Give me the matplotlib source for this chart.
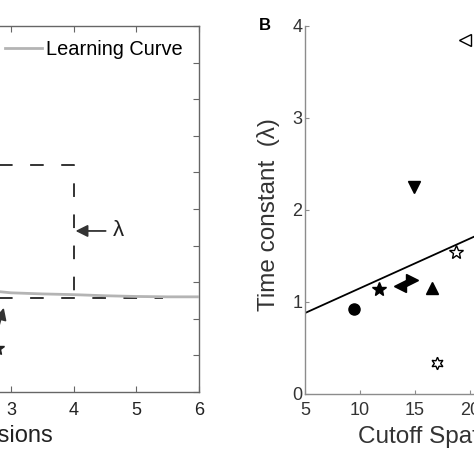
import matplotlib
matplotlib.use("Agg")
import matplotlib.pyplot as plt

plt.rcParams['font.family'] = ['Liberation Sans', 'DejaVu Sans']

# panel A (only the right part is visible)
curve_x = [2.5, 2.82, 3.0, 3.5, 4.0, 4.5, 5.0, 5.5, 6.0]
curve_y = [0.285, 0.274, 0.271, 0.268, 0.266, 0.263, 0.261, 0.260, 0.260]
asymptote = 0.257
box_top = 0.62
lambda_x = 4.0
asym_end = 5.42
a_xticks = [0, 1, 2, 3, 4, 5, 6]
a_xlabels = ['', '', '', '3', '4', '5', '6']

# panel B
cutoff = [9.45, 11.7, 13.6, 14.7, 16.5, 14.9, 17.0, 18.7, 19.5]
tconst = [0.92, 1.14, 1.17, 1.24, 1.15, 2.25, 0.34, 1.54, 3.85]
markers = ['o', '*', '<', '>', '^', 'v', (6, 1, 0), '*', '<']
filled = [True, True, True, True, True, True, False, False, False]
fit_x = [5, 21.5]
fit_intercept = 0.88
fit_slope = 0.054

W = 474
fig = plt.figure(figsize=(4.74, 4.74), dpi=100)

# ---------------- panel A
axA = fig.add_axes([-177 / W, 82 / W, 376 / W, 366 / W])
axA.plot(curve_x, curve_y, color='#b4b4b4', lw=2.0, label='Learning Curve', zorder=3)
axA.plot([0, asym_end], [asymptote, asymptote], color='#333333', lw=1.4,
         dashes=[7.0, 9.0], zorder=2)
axA.plot([0, lambda_x, lambda_x], [box_top, box_top, asymptote], color='#333333', lw=1.4,
         dashes=[7.0, 9.0], zorder=2)
axA.annotate('', xy=(lambda_x + 0.03, 0.44), xytext=(4.51, 0.44),
             arrowprops=dict(arrowstyle='-|>,head_length=0.6,head_width=0.3',
                             color='#333333', lw=1.3, mutation_scale=12,
                             shrinkA=0, shrinkB=0))
axA.text(4.71, 0.44, 'λ', fontsize=16, ha='center', va='center', color='#222222')
axA.annotate('', xy=(2.885, 0.23), xytext=(2.6, 0.05),
             arrowprops=dict(arrowstyle='-|>,head_length=0.6,head_width=0.3',
                             color='#333333', lw=1.2, mutation_scale=12,
                             shrinkA=0, shrinkB=0))
axA.plot([2.77], [0.12], marker='*', ms=10, color='#222222', ls='none')
axA.set_xlim(0, 6)
axA.set_ylim(0, 1)
axA.set_xticks(a_xticks, a_xlabels)
axA.set_yticks([i / 10 for i in range(11)], [''] * 11)
axA.tick_params(direction='in', length=4, width=0.8, top=True, right=True,
                labelsize=13, colors='#666666', labelcolor='#222222', pad=7)
for s in axA.spines.values():
    s.set_color('#666666')
    s.set_linewidth(1.0)
axA.legend(loc='upper right', frameon=False, fontsize=14.4,
           handlelength=1.85, handletextpad=0.2, borderpad=0, borderaxespad=0,
           bbox_to_anchor=(183 / W, 1 - 40 / W), bbox_transform=fig.transFigure)
axA.annotate('Sessions', xy=(3.68, 0), xycoords=('data', 'axes fraction'),
             xytext=(0, -36), textcoords='offset points', ha='right', va='baseline',
             fontsize=17, color='#222222')

# ---------------- panel B
axB = fig.add_axes([305 / W, 80 / W, 275 / W, 368 / W])
axB.plot(fit_x, [fit_intercept + fit_slope * (x - 5) for x in fit_x],
         color='black', lw=1.3, zorder=2)
for x, y, m, f in zip(cutoff, tconst, markers, filled):
    ms = 10 if m == '*' else 8
    if m == (6, 1, 0):
        ms = 9
    axB.plot([x], [y], marker=m, ms=ms, ls='none', zorder=3,
             mfc='black' if f else 'white', mec='black', mew=1.0)
axB.set_xlim(5, 30)
axB.set_ylim(0, 4)
axB.set_xticks(range(5, 31, 5))
axB.set_yticks(range(0, 5))
axB.spines['top'].set_visible(False)
axB.spines['right'].set_visible(False)
for s in ('left', 'bottom'):
    axB.spines[s].set_color('#8c8c8c')
    axB.spines[s].set_linewidth(1.0)
axB.tick_params(direction='in', length=3, width=0.8, colors='#8c8c8c',
                labelcolor='#333333', labelsize=13)
axB.tick_params(axis='y', pad=2)
axB.tick_params(axis='x', pad=6)
fig.text(269 / W, 1 - 215 / W, 'Time constant  (λ)', rotation=90, ha='center', va='center',
         fontsize=17.5, color='#333333')
axB.annotate('Cutoff Spatial Frequency (c/deg)', xy=(9.8, 0),
             xycoords=('data', 'axes fraction'), xytext=(0, -35), textcoords='offset points',
             ha='left', va='baseline', fontsize=17.5, color='#333333')
fig.text(265 / W, 1 - 26 / W, 'B', fontsize=12, fontweight='bold', ha='center', va='center')

fig.savefig('out.png', dpi=100)
